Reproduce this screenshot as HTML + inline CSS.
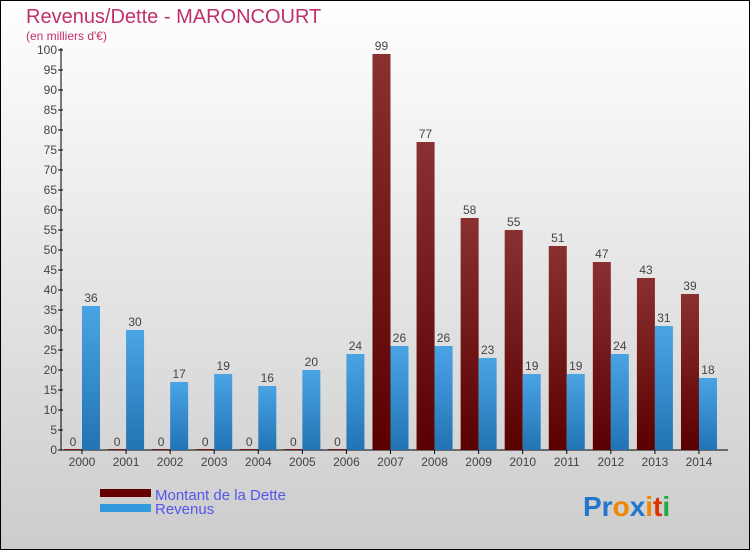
<!DOCTYPE html>
<html><head><meta charset="utf-8"><style>
body{margin:0}
#c{width:750px;height:550px;position:relative;overflow:hidden}
text{font-family:"Liberation Sans",sans-serif}
</style></head><body>
<div id="c">
<svg id="s" width="750" height="550" xmlns="http://www.w3.org/2000/svg">
<defs>
<linearGradient id="bg" x1="0" y1="0" x2="0" y2="1"><stop offset="0" stop-color="#ffffff"/><stop offset="1" stop-color="#cccccc"/></linearGradient>
<linearGradient id="gd" x1="0" y1="0" x2="0" y2="1"><stop offset="0" stop-color="#8a3030"/><stop offset="1" stop-color="#5a0000"/></linearGradient>
<linearGradient id="gr" x1="0" y1="0" x2="0" y2="1"><stop offset="0" stop-color="#4aa4e4"/><stop offset="1" stop-color="#2274b4"/></linearGradient>
</defs>
<rect x="0.5" y="0.5" width="749" height="549" fill="url(#bg)" stroke="#000"/>
<text x="26" y="23" font-size="20" fill="#c0306a">Revenus/Dette - MARONCOURT</text>
<text x="26" y="40" font-size="12" fill="#c0306a">(en milliers d'€)</text>
<g id="plot"></g>
<rect x="100" y="489" width="51" height="8" fill="#660000"/>
<text x="155" y="500" font-size="15" fill="#5555ee">Montant de la Dette</text>
<rect x="100" y="504" width="51" height="8" fill="#3399dd"/>
<text x="155" y="514" font-size="15" fill="#5555ee">Revenus</text>
<text x="583" y="516" font-size="28" font-weight="bold"><tspan fill="#2277cc">Pr</tspan><tspan fill="#ee8800">o</tspan><tspan fill="#2277cc">x</tspan><tspan fill="#ee8800">i</tspan><tspan fill="#dd3300">t</tspan><tspan fill="#22aa44">i</tspan></text>
</svg>
</div>
<script>
const years=["2000","2001","2002","2003","2004","2005","2006","2007","2008","2009","2010","2011","2012","2013","2014"];
const dette=[0,0,0,0,0,0,0,99,77,58,55,51,47,43,39];
const revenus=[36,30,17,19,16,20,24,26,26,23,19,19,24,31,18];
const yTicks=[0,5,10,15,20,25,30,35,40,45,50,55,60,65,70,75,80,85,90,95,100];
const NS="http://www.w3.org/2000/svg";
const g=document.getElementById('plot');
const y=v=>450-v*4;
const xc=i=>82+i*44.07;
function mk(t,a){const e=document.createElementNS(NS,t);for(const k in a)e.setAttribute(k,a[k]);g.appendChild(e);return e;}
const ax=mk('line',{x1:61,y1:48,x2:61,y2:450,stroke:'#000'});


const bx=mk('line',{x1:61,y1:450,x2:728,y2:450,stroke:'#000'});


yTicks.forEach(v=>{
 const t=mk('line',{x1:58,y1:y(v),x2:63,y2:y(v),stroke:'#000'});
 
 
 const l=mk('text',{x:57,y:y(v)+4,'font-size':12,'text-anchor':'end',fill:'#444'});l.textContent=v;
 
 
});
years.forEach((yr,i)=>{
 const c=xc(i);
 const t=mk('line',{x1:c,y1:450,x2:c,y2:454,stroke:'#000'});
 
 
 const l=mk('text',{x:c,y:466,'font-size':12,'text-anchor':'middle',fill:'#444'});l.textContent=yr;
 
 
 const d=dette[i],r=revenus[i];
 const bd=mk('rect',{x:c-18,y:y(d)-(d===0?1:0),width:18,height:Math.max(d*4,1),fill:'url(#gd)'});
 
 
 const ld=mk('text',{x:c-9,y:y(d)-4,'font-size':12,'text-anchor':'middle',fill:'#444'});ld.textContent=d;
 
 
 const br=mk('rect',{x:c,y:y(r),width:18,height:r*4,fill:'url(#gr)'});
 
 
 const lr=mk('text',{x:c+9,y:y(r)-4,'font-size':12,'text-anchor':'middle',fill:'#444'});lr.textContent=r;
 
 
});
</script>
</body></html>
